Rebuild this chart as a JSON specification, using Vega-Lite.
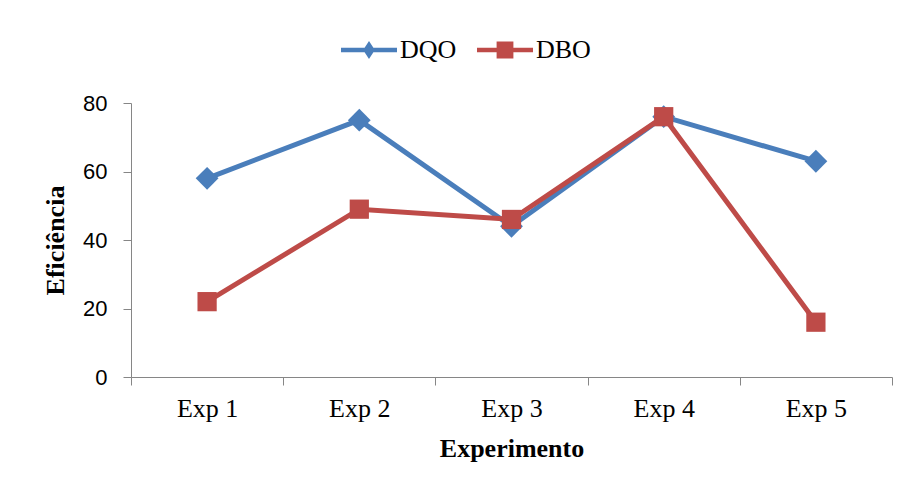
{
  "$schema": "https://vega.github.io/schema/vega-lite/v6.json",
  "width": 761,
  "height": 274,
  "autosize": {"type": "none"},
  "padding": {"left": 131, "top": 103, "right": 17, "bottom": 111},
  "background": "white",
  "config": {
    "view": {"stroke": null},
    "axis": {"grid": false, "domainColor": "#868686", "tickColor": "#868686", "domainWidth": 1, "tickWidth": 1, "tickSize": 8}
  },
  "data": {
    "values": [
      {"exp": "Exp 1", "serie": "DQO", "valor": 58},
      {"exp": "Exp 2", "serie": "DQO", "valor": 75},
      {"exp": "Exp 3", "serie": "DQO", "valor": 44},
      {"exp": "Exp 4", "serie": "DQO", "valor": 76},
      {"exp": "Exp 5", "serie": "DQO", "valor": 63},
      {"exp": "Exp 1", "serie": "DBO", "valor": 22},
      {"exp": "Exp 2", "serie": "DBO", "valor": 49},
      {"exp": "Exp 3", "serie": "DBO", "valor": 46},
      {"exp": "Exp 4", "serie": "DBO", "valor": 76},
      {"exp": "Exp 5", "serie": "DBO", "valor": 16}
    ]
  },
  "encoding": {
    "x": {
      "field": "exp", "type": "nominal",
      "scale": {"type": "band", "paddingInner": 0, "paddingOuter": 0},
      "axis": {
        "title": "Experimento", "labelAngle": 0, "tickBand": "extent",
        "labelFont": "Liberation Serif", "labelFontSize": 26, "labelColor": "black", "labelPadding": 10,
        "titleFont": "Liberation Serif", "titleFontSize": 26, "titleFontWeight": "bold", "titleColor": "black", "titlePadding": 14
      }
    },
    "y": {
      "field": "valor", "type": "quantitative",
      "scale": {"domain": [0, 80], "nice": false},
      "axis": {
        "title": "Eficiência", "values": [0, 20, 40, 60, 80],
        "labelFont": "Liberation Sans", "labelFontSize": 22, "labelColor": "black", "labelPadding": 16,
        "titleFont": "Liberation Serif", "titleFontSize": 26, "titleFontWeight": "bold", "titleColor": "black", "titlePadding": 14
      }
    },
    "color": {
      "field": "serie", "type": "nominal",
      "scale": {"domain": ["DQO", "DBO"], "range": ["#4A7EBB", "#BE4B48"]},
      "legend": {
        "title": null, "orient": "none", "direction": "horizontal",
        "legendX": 210, "legendY": -81, "padding": 0,
        "symbolSize": 3136, "labelFont": "Liberation Serif", "labelFontSize": 26, "labelColor": "black",
        "labelOffset": 3, "columnPadding": 20,
        "encode": {
          "symbols": {
            "update": {
              "shape": {"signal": "datum.value === 'DQO' ? 'M-1,-0.08H1V0.08H-1Z M0,-0.32L0.21,0L0,0.32L-0.21,0Z' : 'M-1,-0.08H1V0.08H-1Z M-0.3,-0.3H0.3V0.3H-0.3Z'"},
              "fill": {"signal": "datum.value === 'DQO' ? '#4A7EBB' : '#BE4B48'"},
              "fillOpacity": {"value": 1},
              "strokeWidth": {"value": 0}
            }
          }
        }
      }
    }
  },
  "layer": [
    {
      "mark": {"type": "line", "strokeWidth": 5}
    },
    {
      "mark": {"type": "point", "filled": true, "opacity": 1},
      "encoding": {
        "shape": {"condition": {"test": "datum.serie === 'DQO'", "value": "diamond"}, "value": "square"},
        "size": {"condition": {"test": "datum.serie === 'DQO'", "value": 520}, "value": 370}
      }
    }
  ]
}
